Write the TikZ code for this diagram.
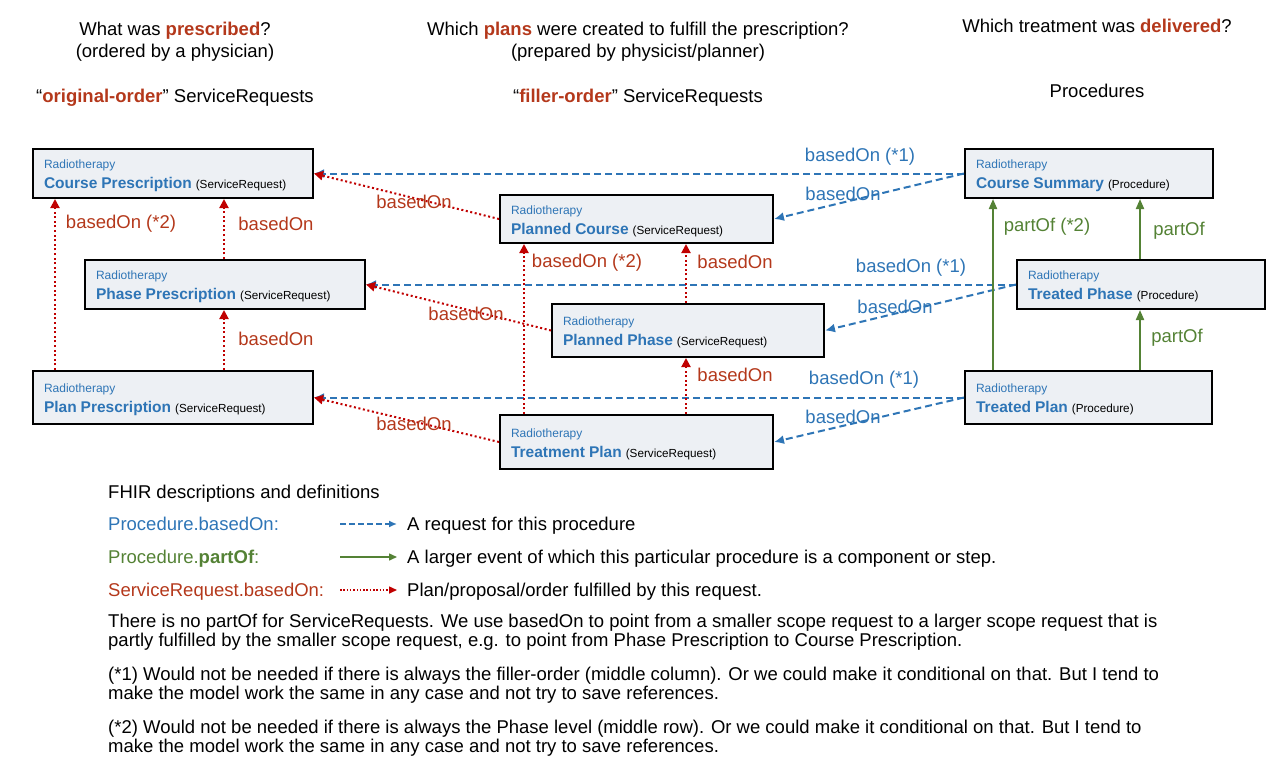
\documentclass[tikz,border=0pt]{standalone}
\usepackage{fontspec}
\setmainfont{Liberation Sans}
\usetikzlibrary{arrows.meta}

\definecolor{rtblue}{HTML}{2E75B6}
\definecolor{rtred}{HTML}{B4381B}
\definecolor{rtdot}{HTML}{C00000}
\definecolor{rtgreen}{HTML}{548235}
\definecolor{rtfill}{HTML}{EDF0F4}

\newcommand{\rtlabel}[2]{\rule{0pt}{13pt}{\color{rtblue}Radiotherapy}\\{\fontsize{15.5}{20}\selectfont\bfseries\color{rtblue}#1} {\fontsize{11.7}{20}\selectfont(#2)}}

\begin{document}
\begin{tikzpicture}[x=1pt,y=-1pt,
    rt/.style={draw=black, line width=2pt, fill=rtfill, anchor=north west, align=left,
      inner xsep=11pt, inner ysep=0pt, font=\fontsize{12}{20}\selectfont},
    sr/.style={rtdot, line width=2pt, dash pattern=on 2pt off 2.6pt, -{Triangle[length=9pt,width=9pt]}},
    pb/.style={rtblue, line width=2pt, dash pattern=on 7pt off 4pt, -{Latex[length=10pt,width=9pt]}},
    po/.style={rtgreen, line width=2pt, -{Triangle[length=10pt,width=8pt]}},
    lbl/.style={font=\fontsize{18.5}{19}\selectfont, inner sep=0pt},
    txt/.style={font=\fontsize{18.5}{19}\selectfont, inner sep=0pt, align=left, anchor=north west}]
  \useasboundingbox (0,0) rectangle (1281,771);

  % header
  \node[lbl, align=center, anchor=north] (qpre) at (175,22) {What was {\bfseries\color{rtred}prescribed}?\\[2.5pt](ordered by a physician)};
  \node[lbl, align=center, anchor=north] (qplan) at (638,22) {Which {\bfseries\color{rtred}plans} were created to fulfill the prescription?\\[2.5pt](prepared by physicist/planner)};
  \node[lbl, anchor=north] (qdel) at (1097,19) {Which treatment was {\bfseries\color{rtred}delivered}?};
  \node[lbl, anchor=north] (hpre) at (175,89) {“{\bfseries\color{rtred}original-order}” ServiceRequests};
  \node[lbl, anchor=north] (hplan) at (638,89) {“{\bfseries\color{rtred}filler-order}” ServiceRequests};
  \node[lbl, anchor=north] (hdel) at (1097,84) {Procedures};

  % boxes
  \node[rt, minimum width=280pt, minimum height=49pt, text width=258pt] (coursepre) at (32,148) {\rtlabel{Course Prescription}{ServiceRequest}};
  \node[rt, minimum width=280pt, minimum height=49pt, text width=258pt] (phasepre) at (84,259) {\rtlabel{Phase Prescription}{ServiceRequest}};
  \node[rt, minimum width=280pt, minimum height=53pt, text width=258pt] (planpre) at (32,370) {\rtlabel{Plan Prescription}{ServiceRequest}};
  \node[rt, minimum width=273pt, minimum height=48pt, text width=251pt] (pcourse) at (499,194) {\rtlabel{Planned Course}{ServiceRequest}};
  \node[rt, minimum width=272pt, minimum height=53pt, text width=250pt] (pphase) at (551,303) {\rtlabel{Planned Phase}{ServiceRequest}};
  \node[rt, minimum width=273pt, minimum height=54pt, text width=251pt] (tplan) at (499,414) {\rtlabel{Treatment Plan}{ServiceRequest}};
  \node[rt, minimum width=248pt, minimum height=49pt, text width=226pt] (csum) at (964,148) {\rtlabel{Course Summary}{Procedure}};
  \node[rt, minimum width=248pt, minimum height=49pt, text width=226pt] (tphase) at (1016,259) {\rtlabel{Treated Phase}{Procedure}};
  \node[rt, minimum width=247pt, minimum height=53pt, text width=225pt] (tdplan) at (964,370) {\rtlabel{Treated Plan}{Procedure}};

  \coordinate (ca) at (55,0);
  \coordinate (cb) at (224,0);
  \coordinate (cc) at (524,0);
  \coordinate (cd) at (686,0);
  \coordinate (ce) at (993,0);
  \coordinate (cf) at (1140,0);

  % procedures -> requests
  \draw[pb] (csum.west) -- (coursepre.east);
  \draw[pb] (csum.west) -- (pcourse.east);
  \draw[pb] (tphase.west) -- (phasepre.east);
  \draw[pb] (tphase.west) -- (pphase.east);
  \draw[pb] (tdplan.west) -- (planpre.east);
  \draw[pb] (tdplan.west) -- (tplan.east);
  \node[lbl, text=rtblue] (b1) at (860,157) {basedOn (*1)};
  \node[lbl, text=rtblue] (b2) at (911,268) {basedOn (*1)};
  \node[lbl, text=rtblue] (b3) at (864,380) {basedOn (*1)};
  \node[lbl, text=rtblue] (b4) at (843,194) {basedOn};
  \node[lbl, text=rtblue] (b5) at (895,307) {basedOn};
  \node[lbl, text=rtblue] (b6) at (843,417) {basedOn};

  % filler -> original
  \draw[sr] (pcourse.west) -- (coursepre.east);
  \draw[sr] (pphase.west) -- (phasepre.east);
  \draw[sr] (tplan.west) -- (planpre.east);
  \node[lbl, text=rtred] (r1) at (414,202) {basedOn};
  \node[lbl, text=rtred] (r2) at (466,314) {basedOn};
  \node[lbl, text=rtred] (r3) at (414,424) {basedOn};

  % within columns
  \draw[sr] (planpre.north -| ca) -- (coursepre.south -| ca);
  \draw[sr] (phasepre.north -| cb) -- (coursepre.south -| cb);
  \draw[sr] (planpre.north -| cb) -- (phasepre.south -| cb);
  \draw[sr] (tplan.north -| cc) -- (pcourse.south -| cc);
  \draw[sr] (pphase.north -| cd) -- (pcourse.south -| cd);
  \draw[sr] (tplan.north -| cd) -- (pphase.south -| cd);
  \draw[po] (tdplan.north -| ce) -- (csum.south -| ce);
  \draw[po] (tphase.north -| cf) -- (csum.south -| cf);
  \draw[po] (tdplan.north -| cf) -- (tphase.south -| cf);
  \node[lbl, text=rtred] (r4) at (121,224) {basedOn (*2)};
  \node[lbl, text=rtred] (r5) at (276,224) {basedOn};
  \node[lbl, text=rtred] (r6) at (276,339) {basedOn};
  \node[lbl, text=rtred] (r7) at (587,263) {basedOn (*2)};
  \node[lbl, text=rtred] (r8) at (735,262) {basedOn};
  \node[lbl, text=rtred] (r9) at (735,375) {basedOn};
  \node[lbl, text=rtgreen] (g1) at (1047,227) {partOf (*2)};
  \node[lbl, text=rtgreen] (g2) at (1179,231) {partOf};
  \node[lbl, text=rtgreen] (g3) at (1177,338) {partOf};

  % legend
  \node[lbl, anchor=base west] (leg) at (108,498) {FHIR descriptions and definitions};
  \node[lbl, anchor=base west, text=rtblue] (lpb) at (108,530) {Procedure.basedOn:};
  \node[lbl, anchor=base west, text=rtgreen] (lpo) at (108,563) {Procedure.{\bfseries partOf}:};
  \node[lbl, anchor=base west, text=rtred] (lsr) at (108,596) {ServiceRequest.basedOn:};
  \coordinate (lpb0) at (340,524);
  \coordinate (lpo0) at (340,557);
  \coordinate (lsr0) at (340,590);
  \node[lbl, anchor=base west] (dpb) at (407,530) {A request for this procedure};
  \node[lbl, anchor=base west] (dpo) at (407,563) {A larger event of which this particular procedure is a component or step.};
  \node[lbl, anchor=base west] (dsr) at (407,596) {Plan/proposal/order fulfilled by this request.};
  \draw[pb, line width=1.5pt, dash pattern=on 6pt off 3pt, shorten >=10pt, -{Latex[length=8pt,width=7pt]}] (lpb0) -- (dpb.west |- lpb0);
  \draw[po, line width=1.5pt, shorten >=10pt, -{Triangle[length=8pt,width=7pt]}] (lpo0) -- (dpo.west |- lpo0);
  \draw[sr, line width=1.5pt, dash pattern=on 1.5pt off 1.8pt, shorten >=10pt, -{Triangle[length=8pt,width=7pt]}] (lsr0) -- (dsr.west |- lsr0);

  \node[txt] (n0) at (108,614) {There is no partOf for ServiceRequests. We use basedOn to point from a smaller scope request to a larger scope request that is\\partly fulfilled by the smaller scope request, e.g. to point from Phase Prescription to Course Prescription.};
  \node[txt] (n1) at (108,667) {(*1) Would not be needed if there is always the filler-order (middle column). Or we could make it conditional on that. But I tend to\\make the model work the same in any case and not try to save references.};
  \node[txt] (n2) at (108,720) {(*2) Would not be needed if there is always the Phase level (middle row). Or we could make it conditional on that. But I tend to\\make the model work the same in any case and not try to save references.};
\end{tikzpicture}
\end{document}
